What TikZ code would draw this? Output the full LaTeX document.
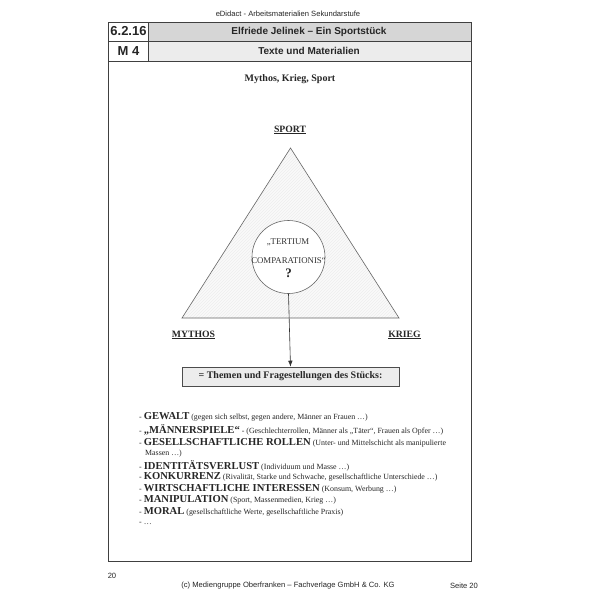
\documentclass[tikz,border=0pt]{standalone}
\usepackage{fontspec}
\setmainfont{Liberation Serif}
\newfontfamily\arial{Liberation Sans}
\usetikzlibrary{patterns,arrows.meta}
\begin{document}
\begin{tikzpicture}[x=1pt,y=-1pt,
  hdrtext/.style={font=\arial\bfseries\fontsize{10}{11}\selectfont},
  foot/.style={font=\arial\fontsize{7.6}{8.5}\selectfont, text=black!85},
  corner/.style={font=\fontsize{9.7}{11}\selectfont\bfseries, text=black!85},
  item/.style={anchor=west, inner sep=0pt, font=\fontsize{7.9}{8.5}\selectfont, text=black!85},
  ctext/.style={font=\fontsize{8.8}{10}\selectfont, text=black!80}
]
\useasboundingbox[fill=white] (0,0) rectangle (600,600);
% header
\node[foot, font=\arial\fontsize{7.6}{8.5}\selectfont] (edid) at (288,14) {eDidact - Arbeitsmaterialien Sekundarstufe};
\fill[gray!32] (148,22) rectangle (471,41);
\fill[gray!15] (148,41) rectangle (471,61);
\draw[black!75, line width=0.7pt] (108,22) rectangle (471,561);
\draw[black!75, line width=0.7pt] (108,41) -- (471,41);
\draw[black!75, line width=0.7pt] (108,61) -- (471,61);
\draw[black!75, line width=0.7pt] (148,22) -- (148,61);
\node[font=\arial\bfseries\fontsize{13}{14}\selectfont, text=black!85] (num) at (128.5,31.5) {6.2.16};
\node[font=\arial\bfseries\fontsize{13}{14}\selectfont, text=black!85] (m4) at (128.5,51) {M 4};
\node[hdrtext, text=black!85] (title) at (309,31.5) {Elfriede Jelinek – Ein Sportstück};
\node[hdrtext, text=black!85] (sub) at (309,51) {Texte und Materialien};
% heading
\node[font=\fontsize{10}{11}\selectfont\bfseries, text=black!85] (head) at (290,79) {Mythos, Krieg, Sport};
% triangle
\coordinate (apex) at (290.5,148);
\coordinate (bl) at (182,318);
\coordinate (br) at (399,318);
\fill[gray!4] (apex) -- (bl) -- (br) -- cycle;
\fill[pattern=north east lines, pattern color=gray!14] (apex) -- (bl) -- (br) -- cycle;
\draw[black!60, line width=0.6pt] (apex) -- (bl) -- (br) -- cycle;
\node[circle, draw=black!60, fill=white, line width=0.6pt, minimum size=73pt, inner sep=0pt] (circ) at (288.5,257) {};
\node[ctext] (t1) at (288,242) {„TERTIUM};
\node[ctext] (t2) at (288.5,261) {COMPARATIONIS“};
\node[font=\fontsize{13}{14}\selectfont\bfseries, text=black!85] (q) at (288.5,273) {?};
\node[corner] (sport) at (290,130) {\underline{SPORT}};
\node[corner] (mythos) at (193.5,335) {\underline{MYTHOS}};
\node[corner] (krieg) at (404.5,335) {\underline{KRIEG}};
% box
\node[draw=black!70, fill=gray!15, line width=0.6pt, minimum width=217pt, minimum height=19pt, inner sep=0pt, font=\fontsize{10}{11}\selectfont\bfseries, text=black!85] (box) at (290.5,376.5) {= Themen und Fragestellungen des Stücks:};
\draw[black!80, line width=0.6pt, -{Latex[length=6pt,width=4.5pt]}] (circ.south) -- (box.north);
% list
\node[item] (i1) at (139,417) {- \textbf{\fontsize{10.6}{11}\selectfont GEWALT} (gegen sich selbst, gegen andere, Männer an Frauen …)};
\node[item] (i2) at (139,430) {- \textbf{\fontsize{10.6}{11}\selectfont „MÄNNERSPIELE“} - (Geschlechterrollen, Männer als „Täter“, Frauen als Opfer …)};
\node[item] (i3) at (139,442.5) {- \textbf{\fontsize{10.6}{11}\selectfont GESELLSCHAFTLICHE ROLLEN} (Unter- und Mittelschicht als manipulierte};
\node[item] (i3b) at (145,454) {Massen …)};
\node[item] (i4) at (139,465.5) {- \textbf{\fontsize{10.6}{11}\selectfont IDENTITÄTSVERLUST} (Individuum und Masse …)};
\node[item] (i5) at (139,477) {- \textbf{\fontsize{10.6}{11}\selectfont KONKURRENZ} (Rivalität, Starke und Schwache, gesellschaftliche Unterschiede …)};
\node[item] (i6) at (139,488.5) {- \textbf{\fontsize{10.6}{11}\selectfont WIRTSCHAFTLICHE INTERESSEN} (Konsum, Werbung …)};
\node[item] (i7) at (139,500) {- \textbf{\fontsize{10.6}{11}\selectfont MANIPULATION} (Sport, Massenmedien, Krieg …)};
\node[item] (i8) at (139,511.5) {- \textbf{\fontsize{10.6}{11}\selectfont MORAL} (gesellschaftliche Werte, gesellschaftliche Praxis)};
\node[item] (i9) at (139,523) {- …};
% footer
\node[foot] (pg) at (112,576) {20};
\node[foot] (copy) at (288,586) {(c) Mediengruppe Oberfranken – Fachverlage GmbH \& Co. KG};
\node[foot] (seite) at (464,586) {Seite 20};
\end{tikzpicture}
\end{document}
